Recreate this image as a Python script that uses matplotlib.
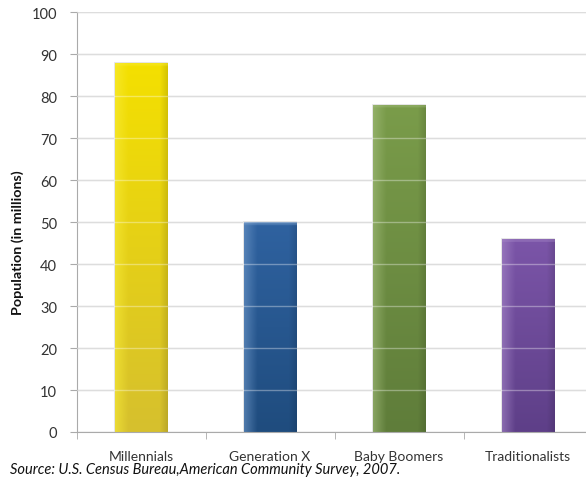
import matplotlib
matplotlib.use("Agg")
import matplotlib.pyplot as plt
import numpy as np
from matplotlib.colors import to_rgb

categories = ["Millennials", "Generation X", "Baby Boomers", "Traditionalists"]
values = [88, 50, 78, 46]
yticks = [0, 10, 20, 30, 40, 50, 60, 70, 80, 90, 100]
colors_light = ["#f8ec3a", "#6f98c8", "#a3bd7c", "#a688c8"]
colors_mid = ["#f4e000", "#2f62a0", "#7a9c4a", "#7b55a8"]
colors_dark = ["#d6c02e", "#1f4c7e", "#5f7d3a", "#5e3f88"]

plt.rcParams['font.family'] = ['Lato', 'DejaVu Sans']

fig = plt.figure(figsize=(5.86, 4.81), dpi=100)
W, H = 586, 481
left, right, top, bottom = 76.5, 592.5, 13.3, 433
ax = fig.add_axes([left / W, 1 - bottom / H, (right - left) / W, (bottom - top) / H])

x = np.arange(len(categories))
bw = 0.41
bars = ax.bar(x, values, width=bw, color="none", edgecolor="none", zorder=2)

for i, (b, v) in enumerate(zip(bars, values)):
    cl = np.array(to_rgb(colors_light[i]))
    cm = np.array(to_rgb(colors_mid[i]))
    cd = np.array(to_rgb(colors_dark[i]))
    nx, ny = 60, 200
    hx = np.linspace(0, 1, nx)
    prof = np.clip(1 - hx / 0.25, 0, 1) * 0.6
    prof_r = np.clip((hx - 0.85) / 0.15, 0, 1) * 0.25
    vy = np.linspace(0, 1, ny)
    base = cd[None, :] * (1 - vy[:, None]) + cm[None, :] * vy[:, None]
    img = base[:, None, :] * np.ones((ny, nx, 3))
    img = img * (1 - prof[None, :, None]) + cl[None, None, :] * prof[None, :, None]
    img = img * (1 - prof_r[None, :, None] * 0.5)
    topband = vy > 1 - 3.0 / (v * 4.2)
    img[topband] = img[topband] * 0.6 + 0.4 * cl
    x0 = b.get_x()
    im = ax.imshow(img, extent=[x0, x0 + bw, 0, v], origin="lower", aspect="auto",
                   zorder=2, interpolation="bilinear")
    im.set_clip_path(b)
    ax.add_patch(plt.Rectangle((x0, 0), bw, v, fill=False, edgecolor="#e0e0e0",
                               linewidth=1.2, zorder=1.9))

ax.set_xlim(-0.5, len(categories) - 0.5)
ax.set_ylim(0, 100)
ax.set_yticks(yticks)
ax.set_yticklabels([str(t) for t in yticks], fontsize=10.5, color="#333333")
ax.yaxis.grid(True, color="#cccccc", linewidth=1, zorder=0)
for yt in yticks[1:]:
    ax.axhline(yt, color="white", alpha=0.35, linewidth=1, zorder=3)
ax.set_axisbelow(True)

ax.set_xticks(x)
ax.set_xticklabels(categories, fontsize=10, color="#333333")
ax.tick_params(axis="x", length=0, pad=13)
ax.set_xticks(np.arange(-0.5, len(categories), 1.0), minor=True)
ax.tick_params(axis="x", which="minor", length=5, color="#aaaaaa")
ax.tick_params(axis="y", length=5, color="#aaaaaa", pad=9)

for s in ["top", "right"]:
    ax.spines[s].set_visible(False)
ax.spines["left"].set_color("#aaaaaa")
ax.spines["bottom"].set_color("#aaaaaa")

ax.set_ylabel("Population (in millions)", fontsize=10.3, fontweight="bold", color="#111111")
ax.yaxis.set_label_coords((24 - left) / (right - left), (bottom - 243) / (bottom - top))

fig.text(10 / W, 1 - 470 / H, "Source: U.S. Census Bureau,American Community Survey, 2007.",
         fontsize=10.5, style="italic", ha="left", va="center", color="#111111")

fig.savefig("out.png", dpi=100)
